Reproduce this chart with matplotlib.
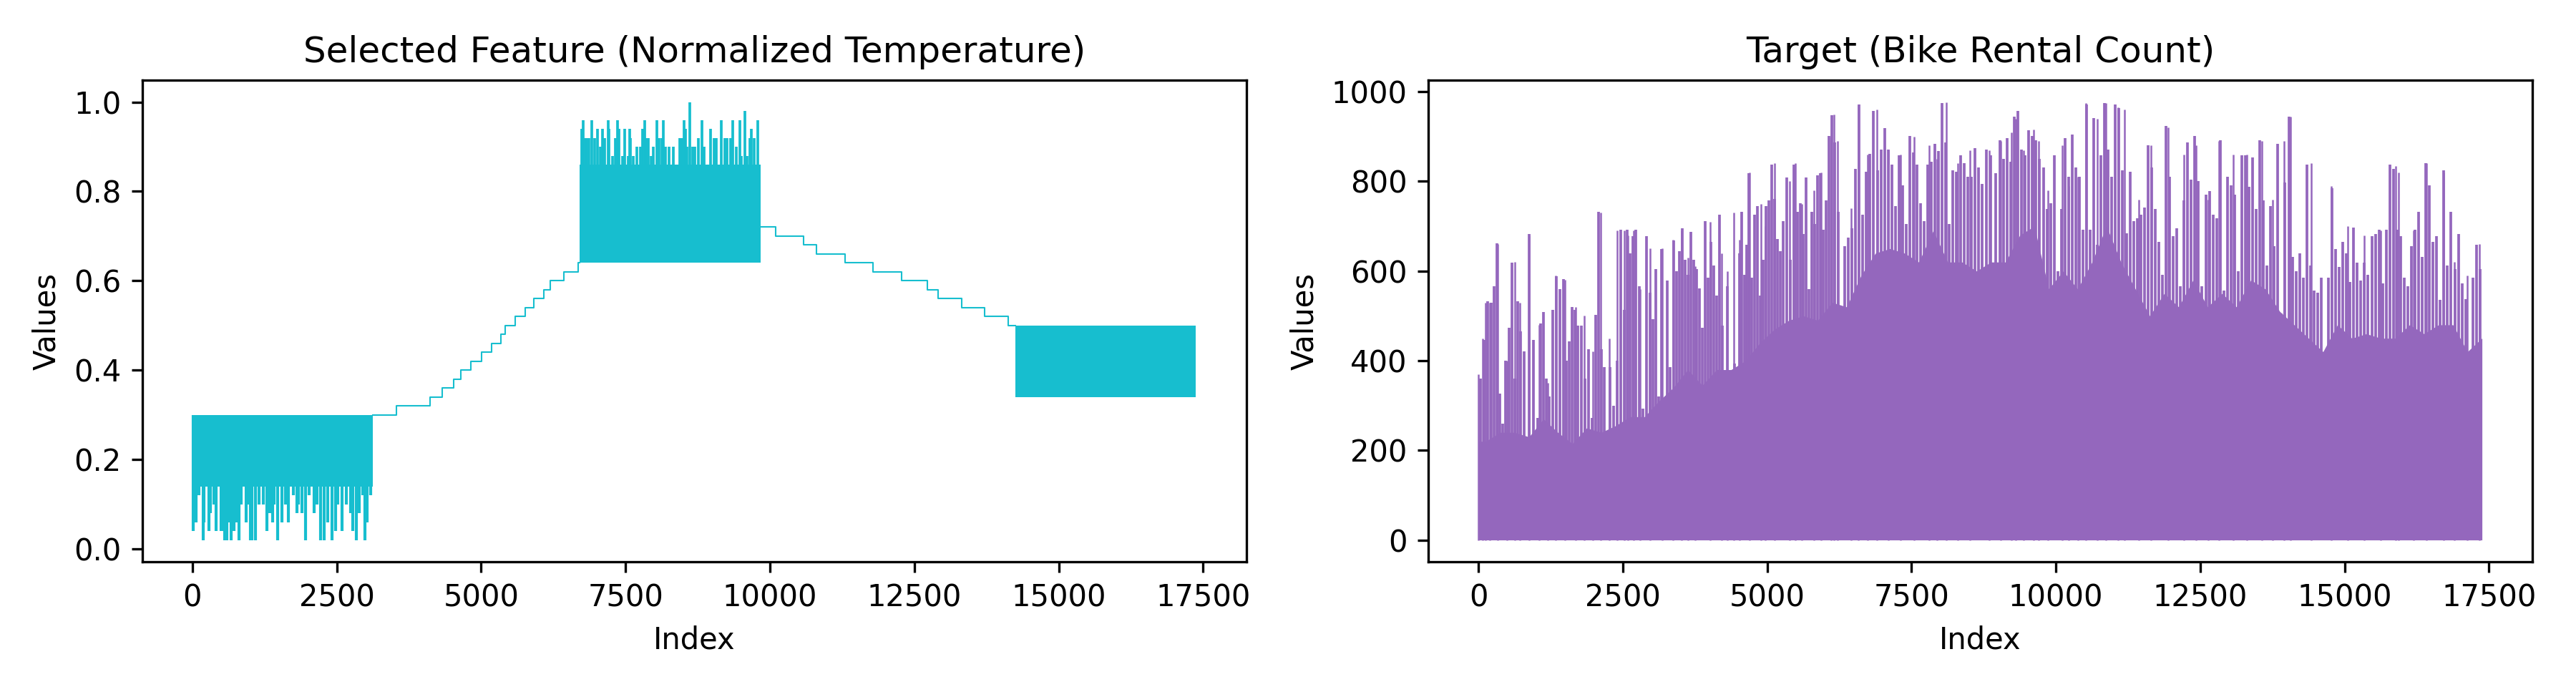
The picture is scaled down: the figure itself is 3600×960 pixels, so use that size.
import numpy as np
from matplotlib import pyplot as plt

n_points = 17379

# ---- left chart: normalized temperature ----
# noisy blocks: (start, end, solid low, solid high)
temp_blocks = [
    (0, 3128, 0.14, 0.30),
    (6700, 9838, 0.64, 0.86),
    (14245, 17378, 0.34, 0.50),
]

# rising and falling steps between the blocks (start index, level)
temp_steps_up_x = [3128, 3526, 4109, 4322, 4521, 4649, 4819, 5004, 5175, 5345,
                   5416, 5587, 5758, 5914, 6085, 6199, 6426, 6682, 6700]
temp_steps_up_y = [0.30, 0.32, 0.34, 0.36, 0.38, 0.40, 0.42, 0.44, 0.46, 0.48,
                   0.50, 0.52, 0.54, 0.56, 0.58, 0.60, 0.62, 0.64, 0.64]
temp_steps_down_x = [9838, 10094, 10577, 10805, 11302, 11786, 12283, 12724,
                     12909, 13321, 13719, 14131, 14245]
temp_steps_down_y = [0.72, 0.70, 0.68, 0.66, 0.64, 0.62, 0.60, 0.58,
                     0.56, 0.54, 0.52, 0.50, 0.50]

# downward dips of the first block
temp_dip_x = [16, 66, 107, 182, 202, 285, 305, 367, 408, 491, 524, 553, 594, 635,
              664, 718, 759, 800, 842, 924, 965, 1007, 1035, 1089, 1151, 1233,
              1287, 1337, 1386, 1419, 1481, 1555, 1613, 1667, 1749, 1811, 1832,
              1894, 1955, 2017, 2112, 2162, 2224, 2285, 2347, 2417, 2483, 2512,
              2595, 2669, 2739, 2780, 2834, 2884, 2946, 2987, 3028, 3090]
temp_dip_y = [0.04, 0.06, 0.12, 0.02, 0.06, 0.04, 0.08, 0.10, 0.04, 0.04, 0.04,
              0.02, 0.02, 0.06, 0.02, 0.04, 0.06, 0.02, 0.10, 0.06, 0.10, 0.02,
              0.02, 0.02, 0.10, 0.10, 0.04, 0.08, 0.06, 0.10, 0.02, 0.06, 0.10,
              0.06, 0.12, 0.08, 0.10, 0.08, 0.02, 0.12, 0.08, 0.10, 0.02, 0.02,
              0.06, 0.02, 0.04, 0.10, 0.04, 0.10, 0.08, 0.04, 0.02, 0.08, 0.12,
              0.02, 0.06, 0.12]

# upward peaks of the middle block
temp_peak_x = [6741, 6762, 6803, 6824, 6865, 6918, 6968, 7009, 7059, 7100, 7133,
               7195, 7215, 7277, 7323, 7360, 7381, 7443, 7484, 7546, 7566, 7587,
               7628, 7690, 7752, 7793, 7826, 7855, 7896, 7937, 7979, 8041, 8082,
               8123, 8156, 8185, 8247, 8330, 8433, 8474, 8515, 8535, 8568, 8618,
               8659, 8700, 8762, 8824, 8865, 8968, 9030, 9072, 9154, 9216, 9258,
               9319, 9361, 9423, 9484, 9505, 9567, 9608, 9650, 9683, 9732, 9794]
temp_peak_y = [0.94, 0.96, 0.92, 0.92, 0.92, 0.96, 0.92, 0.94, 0.90, 0.94, 0.92,
               0.96, 0.94, 0.88, 0.92, 0.96, 0.94, 0.88, 0.94, 0.88, 0.94, 0.92,
               0.88, 0.90, 0.90, 0.94, 0.96, 0.92, 0.92, 0.88, 0.90, 0.96, 0.92,
               0.92, 0.96, 0.90, 0.90, 0.90, 0.92, 0.92, 0.96, 0.94, 0.90, 1.00,
               0.90, 0.90, 0.92, 0.96, 0.90, 0.94, 0.92, 0.92, 0.96, 0.92, 0.92,
               0.92, 0.96, 0.90, 0.96, 0.88, 0.98, 0.88, 0.92, 0.94, 0.92, 0.96]

# ---- right chart: bike rental count ----
bin_width = 250
# solid body level per 250-index bin
rental_core = [220, 240, 240, 230, 270, 240, 215, 250, 240, 255, 275, 275, 310, 340,
               380, 345, 380, 380,
               400, 440, 470, 490, 500, 490, 530, 520, 590, 640, 650, 640, 620, 690,
               620, 620, 600,
               620, 620, 680, 700, 560, 600, 560, 620, 700, 620, 560, 500, 550, 520,
               580, 520, 550, 520,
               580, 560, 510, 480, 450, 420, 480, 450, 460, 450, 450, 480, 460, 480,
               480, 420, 450]
# spike heights seen inside each 250-index bin
rental_bin_spikes = [
    [360, 446, 532, 529], [566, 662, 327, 260, 400], [473, 619, 360, 532, 466],
    [420, 682, 446], [273, 483, 509, 360, 320], [513, 589, 559, 582],
    [400, 443, 519, 513, 479], [479, 360, 426, 273], [502, 732, 426, 386, 220],
    [386, 300, 400, 692], [513, 692, 639, 678, 692], [566, 293, 678, 552],
    [493, 605, 320, 649, 293], [579, 386, 668, 599, 645], [695, 625, 592, 688, 625],
    [605, 562, 473, 712, 585], [665, 612, 546, 725, 479], [566, 393],
    [639, 732, 592, 659, 818, 585], [725, 745, 546, 625, 745],
    [758, 838, 761, 672, 645], [712, 808, 625, 838], [732, 751, 682, 808, 559],
    [732, 705, 814, 818, 692], [758, 901, 947, 887, 732], [519, 655, 675, 695],
    [828, 971, 725, 821], [861, 957, 824, 871], [919, 871, 838, 745],
    [858, 791, 705, 901], [864, 838, 751, 712], [838, 844, 884, 868],
    [975, 887, 705, 824], [821, 858, 841, 811], [811, 874, 831, 795],
    [871, 858, 818], [891, 851, 897, 844], [944, 957, 871, 858],
    [914, 901, 891, 851], [831, 738, 751, 858], [599, 738, 897, 811],
    [904, 831, 811, 692], [971, 692, 941, 659], [858, 975, 871, 811],
    [971, 964, 824, 685], [821, 712, 718, 725], [741, 881, 831, 738],
    [665, 592, 924, 811], [678, 695, 566, 758], [887, 804, 901, 801],
    [566, 771, 778, 725], [718, 891, 556, 811], [791, 771, 599, 858],
    [858, 788, 854, 738], [891, 758, 612, 745], [655, 884, 506, 798],
    [944, 632, 599, 639], [585, 838, 612, 556], [552, 585, 406, 585],
    [785, 649, 609, 665], [639, 576, 697, 619], [579, 619, 592, 678],
    [682, 692, 572, 692], [838, 828, 692, 678], [585, 566, 655, 692],
    [732, 632, 841, 791], [665, 678, 536, 824], [612, 732, 605, 682],
    [572, 538, 416, 585], [659, 605],
]
# tallest single spikes
rental_peak_x = [0, 71, 128, 199, 327, 498, 626, 711, 881, 1052, 1194, 1336, 1493,
                 1678, 1834, 1976, 2118, 2260, 2403, 2531, 2587, 2687, 2801, 2971,
                 3185, 3369, 3512, 3625, 3753, 4009, 4208, 4308, 4421, 4521, 4692,
                 4891, 4962, 5132, 5388, 5488, 5601, 5815, 5928, 6113, 6156, 6213,
                 6454, 6582, 6739, 6895, 7094, 7307, 7549, 7805, 7947, 8104, 8303,
                 8516, 8843, 9042, 9227, 9298, 9440, 9611, 9696, 9866, 10108, 10222,
                 10378, 10520, 10719, 10861, 11075, 11189, 11430, 11644, 11942,
                 12212, 12425, 12639, 12823, 13065, 13307, 13563, 13748, 13947,
                 14060, 14416, 14771, 15056, 15340, 15624, 15880, 15937, 16193,
                 16420, 16719, 16904, 17117, 17330]
rental_peak_y = [370, 450, 530, 530, 660, 400, 620, 530, 680, 480, 350, 590, 580,
                 520, 500, 420, 730, 450, 690, 690, 680, 690, 560, 650, 650, 670,
                 690, 630, 610, 710, 640, 600, 730, 670, 820, 750, 700, 840, 800,
                 840, 750, 780, 820, 900, 950, 890, 740, 970, 860, 960, 870, 860,
                 900, 880, 850, 977, 840, 870, 870, 890, 910, 940, 870, 915, 890,
                 780, 880, 790, 810, 975, 940, 975, 965, 960, 760, 880, 920, 860,
                 880, 760, 890, 860, 860, 890, 760, 890, 945, 840, 790, 700, 680,
                 690, 835, 820, 690, 840, 820, 620, 590, 660]


def draw_temperature(ax):
    color = '#17becf'
    for start, end, low, high in temp_blocks:
        ax.fill_between([start, end], low, high, color=color, linewidth=0)
    ax.vlines(temp_dip_x, temp_dip_y, 0.30, color=color, linewidth=1.0)
    ax.vlines(temp_peak_x, 0.64, temp_peak_y, color=color, linewidth=0.9)
    ax.plot(temp_steps_up_x, temp_steps_up_y, drawstyle='steps-post',
            color=color, linewidth=0.5)
    ax.plot(temp_steps_down_x, temp_steps_down_y, drawstyle='steps-post',
            color=color, linewidth=0.5)
    ax.set_title('Selected Feature (Normalized Temperature)')
    ax.set_xlabel('Index')
    ax.set_ylabel('Values')


def draw_rental(ax):
    color = '#9467bd'
    last = n_points - 1
    centers = np.minimum(np.arange(len(rental_core)) * bin_width + bin_width / 2, last)
    core_x = [0] + list(centers) + [last]
    core_y = [rental_core[0]] + list(rental_core) + [rental_core[-1]]
    ax.fill_between(core_x, 0, core_y, color=color, linewidth=0)

    spike_x, spike_y = [], []
    for i, heights in enumerate(rental_bin_spikes):
        start = i * bin_width
        width = min(bin_width, last - start)
        for k, h in enumerate(heights):
            spike_x.append(start + (k + 0.5) * width / len(heights))
            spike_y.append(h)
    ax.vlines(spike_x, 0, spike_y, color=color, linewidth=0.9)
    ax.vlines(rental_peak_x, 0, rental_peak_y, color=color, linewidth=0.6)
    ax.set_title('Target (Bike Rental Count)')
    ax.set_xlabel('Index')
    ax.set_ylabel('Values')


def main():
    fig, axes = plt.subplots(1, 2, figsize=(12, 3.2))
    draw_temperature(axes[0])
    draw_rental(axes[1])
    plt.tight_layout()
    plt.savefig('out.png', dpi=300)


if __name__ == '__main__':
    main()
